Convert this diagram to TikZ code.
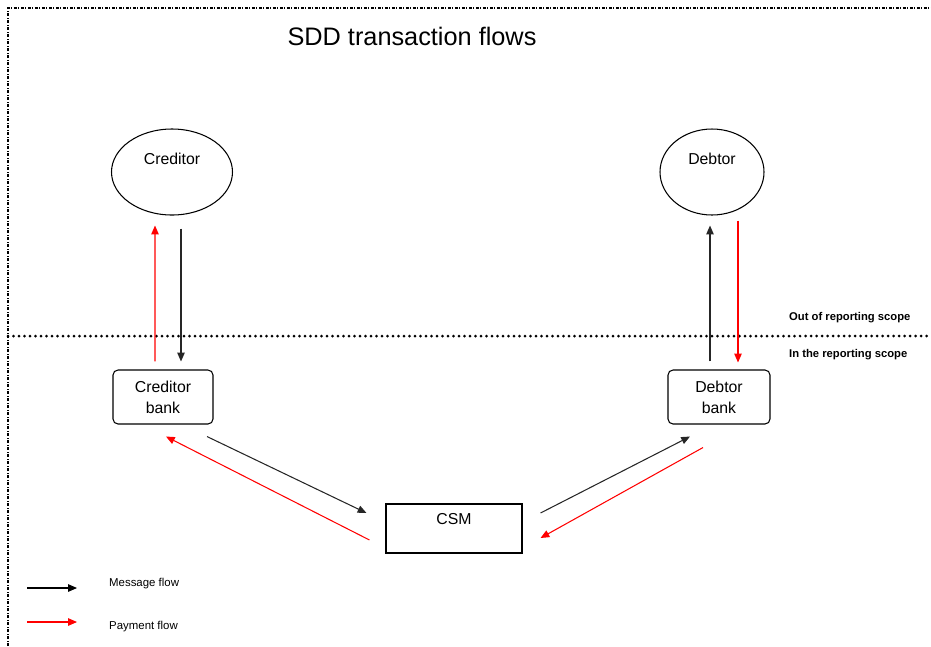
\documentclass[tikz,border=0pt]{standalone}
\usepackage{fontspec}
\setmainfont{Liberation Sans}
\usetikzlibrary{arrows.meta,
  calc,
  positioning,
  shapes
}

\begin{document}
\begin{tikzpicture}[
  party/.style={draw,ellipse,minimum height=1.72cm,line width=0.6pt},
  bank/.style={draw,rounded corners=0.1cm,minimum height=1.08cm,align=center,line width=0.6pt,font=\fontsize{9}{12}\selectfont},
  csmbox/.style={draw,minimum width=2.72cm,minimum height=0.98cm,line width=0.6pt},
  boxtext/.style={font=\fontsize{9}{11}\selectfont},
  msg/.style={->,>={Triangle[length=5pt,width=4.2pt]},line width=0.6pt,black!85},
  pay/.style={msg,red},
  legend/.style={font=\fontsize{6.5}{8}\selectfont,anchor=west},
  scopetext/.style={font=\bfseries\fontsize{6.4}{8}\selectfont,anchor=west},
]
  \useasboundingbox (0,0) rectangle (18.62,-12.92);
  \draw[line width=0.035cm,dash pattern=on 0.06cm off 0.03cm on 0.02cm off 0.03cm] (0.16,-12.92) |- (18.62,-0.16);

  \node[font=\fontsize{14.4}{17}\selectfont] (title) at (8.24,-0.72) {SDD transaction flows};

  % parties
  \node[party,minimum width=2.42cm] (creditor) at (3.44,-3.44) {};
  \node[boxtext] at ([yshift=0.26cm]creditor.center) {Creditor};
  \node[party,minimum width=2.08cm] (debtor) at (14.24,-3.44) {};
  \node[boxtext] at ([yshift=0.26cm]debtor.center) {Debtor};

  % banks and CSM
  \node[bank,minimum width=2cm] (credbank) at (3.26,-7.94) {Creditor\\bank};
  \node[bank,minimum width=2.04cm] (debtbank) at (14.38,-7.94) {Debtor\\bank};
  \node[csmbox] (csm) at (9.08,-10.57) {};
  \node[boxtext] at ([yshift=0.19cm]csm.center) {CSM};

  % reporting scope
  \draw[line width=0.06cm,line cap=round,dash pattern=on 0pt off 0.11cm] (0.16,-6.72) -- (18.62,-6.72);
  \node[scopetext] (outscope) at (15.66,-6.36) {Out of reporting scope};
  \node[scopetext] (inscope) at (15.66,-7.10) {In the reporting scope};

  % creditor side
  \draw[pay] ([xshift=-0.16cm,yshift=0.16cm]credbank.north) -- ([xshift=-0.34cm,yshift=-0.2cm]creditor.south);
  \draw[msg] ([xshift=0.18cm,yshift=-0.26cm]creditor.south) -- ([xshift=0.36cm,yshift=0.16cm]credbank.north);

  % debtor side
  \draw[msg] ([xshift=-0.18cm,yshift=0.16cm]debtbank.north) -- ([xshift=-0.04cm,yshift=-0.2cm]debtor.south);
  \draw[pay] ([xshift=0.52cm,yshift=-0.1cm]debtor.south) -- ([xshift=0.38cm,yshift=0.14cm]debtbank.north);

  % CSM
  \draw[msg] ([xshift=0.88cm,yshift=-0.24cm]credbank.south) -- ([xshift=-0.38cm,yshift=0.31cm]csm.west);
  \draw[pay] ([xshift=-0.32cm,yshift=-0.23cm]csm.west) -- ([xshift=0.06cm,yshift=-0.24cm]credbank.south);
  \draw[msg] ([xshift=0.36cm,yshift=0.31cm]csm.east) -- ([xshift=-0.58cm,yshift=-0.24cm]debtbank.south);
  \draw[pay] ([xshift=-0.32cm,yshift=-0.46cm]debtbank.south) -- ([xshift=0.36cm,yshift=-0.19cm]csm.east);

  % legend
  \node[legend] (msglbl) at (2.06,-11.68) {Message flow};
  \node[legend] (paylbl) at (2.06,-12.54) {Payment flow};
  \draw[msg,black] ([xshift=-1.52cm,yshift=-0.08cm]msglbl.west) -- ([xshift=-0.52cm,yshift=-0.08cm]msglbl.west);
  \draw[pay] ([xshift=-1.52cm,yshift=0.1cm]paylbl.west) -- ([xshift=-0.52cm,yshift=0.1cm]paylbl.west);
\end{tikzpicture}
\end{document}
